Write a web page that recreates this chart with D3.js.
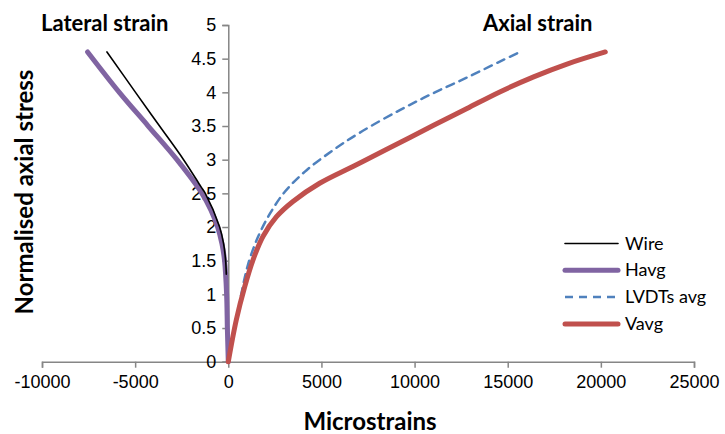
<!DOCTYPE html>
<html>
<head>
<meta charset="utf-8">
<script src="https://cdn.jsdelivr.net/npm/d3@7"></script>
<style>
  body { margin: 0; background: #fff; }
  svg { font-family: Lato, "Open Sans", sans-serif; }
</style>
</head>
<body>
<div id="chart"></div>
<script>
// Stress-strain curves, values
let wireStrain = [-6513, -4980, -3690, -2400, -1470, -1235, -465, -250, -143, -107];
let wireStress = [4.6, 4.0, 3.5, 3.0, 2.6, 2.5, 2.0, 1.75, 1.5, 1.3];

let havgStrain = [-7553, -5850, -4300, -2756, -1414, -931, -573, -340, -200, -90, -50, 0];
let havgStress = [4.6, 4.0, 3.5, 3.0, 2.5, 2.25, 2.0, 1.75, 1.5, 1.0, 0.5, 0];

let lvdtStrain = [680, 1056, 1592, 2219, 3024, 4188, 5619, 7051, 9233, 11023, 12813, 14602, 15585];
let lvdtStress = [0.98, 1.44, 1.85, 2.19, 2.52, 2.84, 3.14, 3.40, 3.74, 3.99, 4.22, 4.46, 4.59];

let vavgStrain = [0, 429, 877, 1324, 1861, 2577, 3472, 4904, 6693, 8482, 11023, 12813, 14602, 16391, 18181, 20238];
let vavgStress = [0, 0.62, 1.11, 1.51, 1.86, 2.15, 2.38, 2.65, 2.90, 3.15, 3.51, 3.76, 4.01, 4.23, 4.42, 4.6];

let xTicks = [-10000, -5000, 0, 5000, 10000, 15000, 20000, 25000];
let yTicks = [0, 0.5, 1, 1.5, 2, 2.5, 3, 3.5, 4, 4.5, 5];

let seriesNames = ['Wire', 'Havg', 'LVDTs avg', 'Vavg'];

let width = 725;
let height = 434;

let svg = d3.select('#chart').append('svg')
  .attr('width', width)
  .attr('height', height);

let x = d3.scaleLinear().domain([-10000, 25000]).range([42, 694]);
let y = d3.scaleLinear().domain([0, 5]).range([361.7, 25]);

let axisColor = '#868686';

// x axis
let xAxis = svg.append('g')
  .attr('transform', 'translate(0,' + y(0) + ')')
  .call(d3.axisBottom(x).tickValues(xTicks).tickSize(6).tickPadding(8).tickFormat(d3.format('d')));
xAxis.select('.domain').attr('stroke', axisColor).attr('stroke-width', 1.5);
xAxis.selectAll('.tick line').attr('stroke', axisColor).attr('stroke-width', 1.5);
xAxis.selectAll('.tick text')
  .attr('fill', '#000')
  .style('font-size', '18px')
  .text(d => d < 0 ? '-' + Math.abs(d) : d);

// y axis
let yAxis = svg.append('g')
  .attr('transform', 'translate(' + x(0) + ',0)')
  .call(d3.axisLeft(y).tickValues(yTicks).tickSize(6).tickPadding(6).tickFormat(d => d));
yAxis.select('.domain').attr('stroke', axisColor).attr('stroke-width', 1.5);
yAxis.selectAll('.tick line').attr('stroke', axisColor).attr('stroke-width', 1.5);
yAxis.selectAll('.tick text')
  .attr('fill', '#000')
  .style('font-size', '18px');

// lines
let line = d3.line()
  .x(d => x(d[0]))
  .y(d => y(d[1]))
  .curve(d3.curveCatmullRom.alpha(0.5));

let series = [
  { name: seriesNames[0], pts: d3.zip(wireStrain, wireStress), color: '#000000', w: 1.6, dash: null },
  { name: seriesNames[1], pts: d3.zip(havgStrain, havgStress), color: '#8064A2', w: 5, dash: null },
  { name: seriesNames[2], pts: d3.zip(lvdtStrain, lvdtStress), color: '#4F81BD', w: 2.5, dash: '8,6' },
  { name: seriesNames[3], pts: d3.zip(vavgStrain, vavgStress), color: '#C0504D', w: 5, dash: null }
];

// draw Havg under Wire like the original
[series[1], series[0], series[2], series[3]].forEach(s => {
  svg.append('path')
    .datum(s.pts)
    .attr('d', line)
    .attr('fill', 'none')
    .attr('stroke', s.color)
    .attr('stroke-width', s.w)
    .attr('stroke-linecap', 'round')
    .attr('stroke-linejoin', 'round')
    .attr('stroke-dasharray', s.dash);
});

// legend
let legend = svg.append('g');
series.forEach((s, i) => {
  let ly = 243.5 + i * 26.8;
  legend.append('line')
    .attr('x1', 565).attr('x2', 618)
    .attr('y1', ly).attr('y2', ly)
    .attr('stroke', s.color)
    .attr('stroke-width', s.w)
    .attr('stroke-linecap', s.dash ? 'butt' : 'round')
    .attr('stroke-dasharray', s.dash);
  legend.append('text')
    .attr('x', 625).attr('y', ly + 6)
    .style('font-size', '18px')
    .text(s.name);
});

// annotations and titles
svg.append('text')
  .attr('x', 41).attr('y', 31)
  .style('font-size', '22px').style('font-weight', 'bold')
  .text('Lateral strain');

svg.append('text')
  .attr('x', 483).attr('y', 31)
  .style('font-size', '22px').style('font-weight', 'bold')
  .text('Axial strain');

svg.append('text')
  .attr('x', 370).attr('y', 430)
  .attr('text-anchor', 'middle')
  .style('font-size', '24px').style('font-weight', 'bold')
  .text('Microstrains');

svg.append('text')
  .attr('transform', 'translate(33,192) rotate(-90)')
  .attr('text-anchor', 'middle')
  .style('font-size', '24px').style('font-weight', 'bold')
  .text('Normalised axial stress');
</script>
</body>
</html>
